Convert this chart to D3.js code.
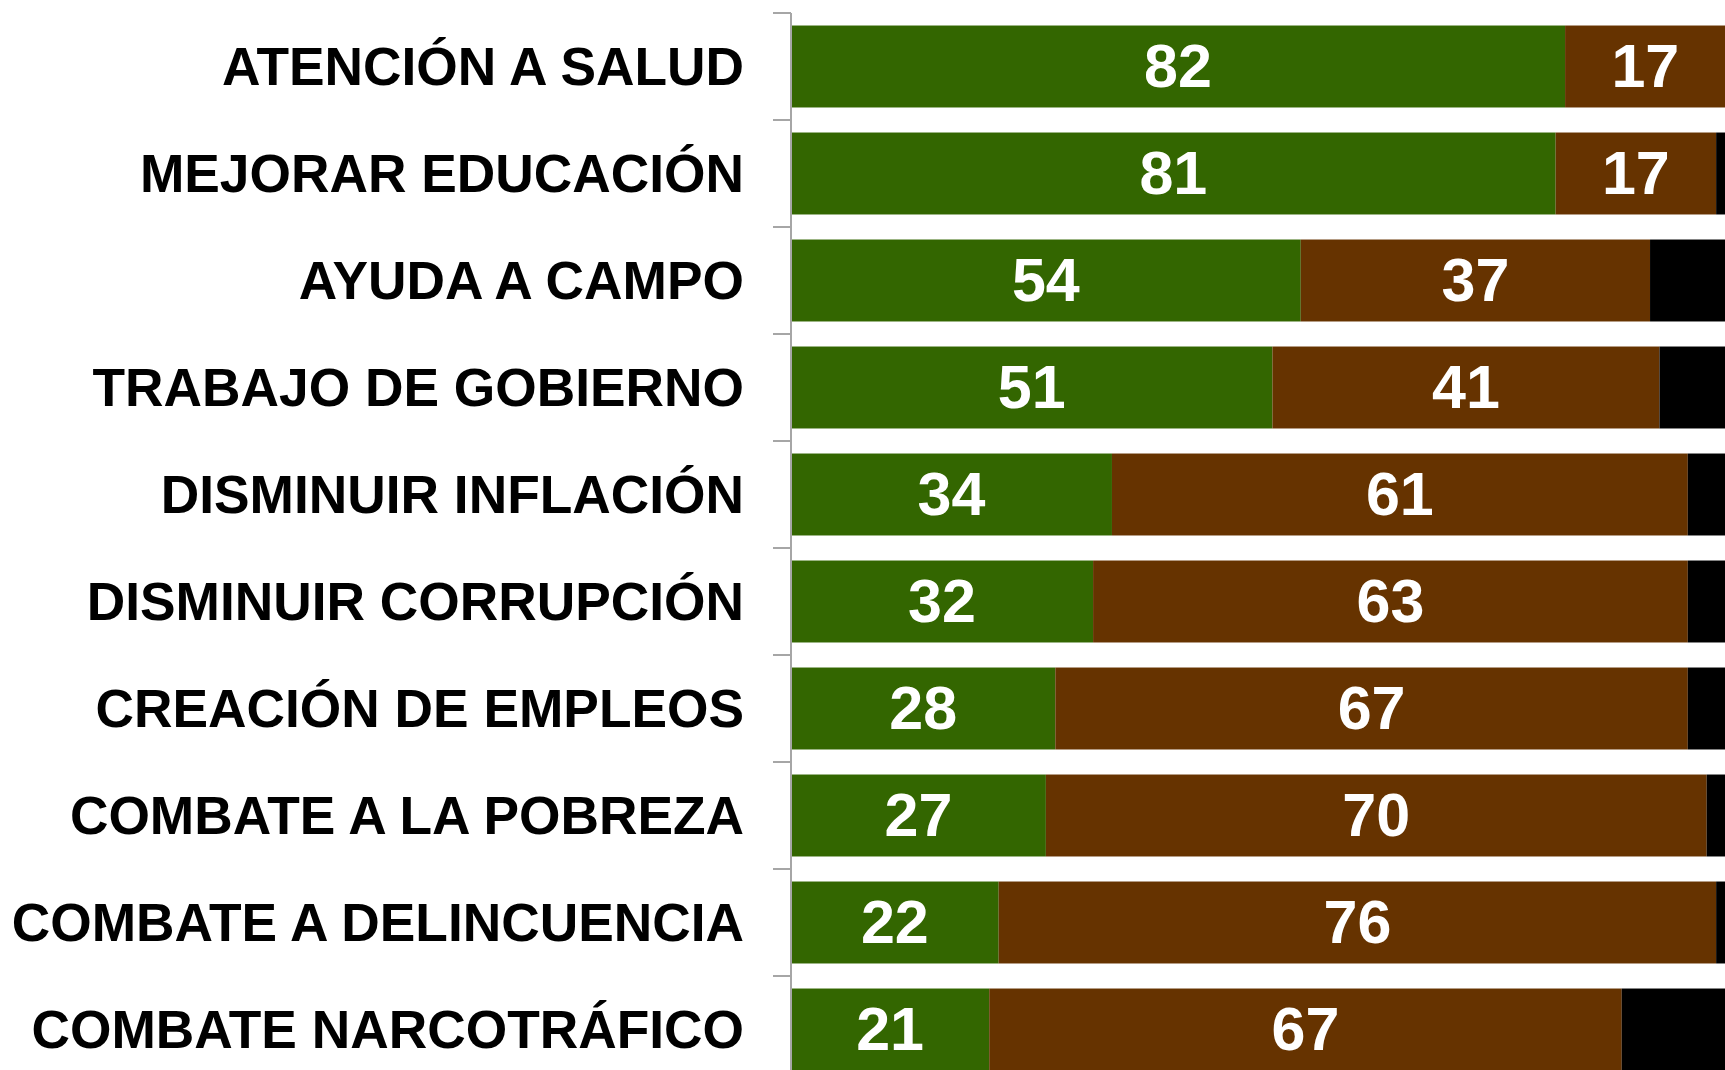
<!DOCTYPE html>
<html>
<head>
<meta charset="utf-8">
<script src="https://cdn.jsdelivr.net/npm/d3@7.9.0/dist/d3.min.js"></script>
<style>
  html, body { margin: 0; padding: 0; background: #fff; overflow: hidden; }
  svg { display: block; font-family: 'Liberation Sans', Arial, sans-serif; }
</style>
</head>
<body>
<svg id="chart" width="1725" height="1070"></svg>
<script>
const categories = [
  'ATENCIÓN A SALUD',
  'MEJORAR EDUCACIÓN',
  'AYUDA A CAMPO',
  'TRABAJO DE GOBIERNO',
  'DISMINUIR INFLACIÓN',
  'DISMINUIR CORRUPCIÓN',
  'CREACIÓN DE EMPLEOS',
  'COMBATE A LA POBREZA',
  'COMBATE A DELINCUENCIA',
  'COMBATE NARCOTRÁFICO'
];
const approve = [82, 81, 54, 51, 34, 32, 28, 27, 22, 21];
const disapprove = [17, 17, 37, 41, 61, 63, 67, 70, 76, 67];
const noAnswer = [1, 2, 9, 8, 5, 5, 5, 3, 2, 12];

const seriesKeys = ['approve', 'disapprove', 'noAnswer'];
const seriesColors = ['#336600', '#663300', '#000000'];

const rows = categories.map((c, i) => ({
  cat: c, approve: approve[i], disapprove: disapprove[i], noAnswer: noAnswer[i]
}));

const svg = d3.select('#chart');

// plot area runs past the right edge, as in the cropped original
const x = d3.scaleLinear().domain([0, 100]).range([791, 1735]);
const y = d3.scaleBand()
  .domain(categories)
  .range([13, 1083])
  .paddingInner(0.234)
  .paddingOuter(0.117);

const stack = d3.stack().keys(seriesKeys);
const layers = stack(rows);

svg.selectAll('g.layer')
  .data(layers)
  .join('g')
  .attr('class', 'layer')
  .attr('fill', (d, i) => seriesColors[i])
  .selectAll('rect')
  .data((d) => d)
  .join('rect')
  .attr('x', (d) => x(d[0]))
  .attr('y', (d) => y(d.data.cat))
  .attr('width', (d) => x(d[1]) - x(d[0]))
  .attr('height', y.bandwidth());

// value labels for the first two series
const labelled = layers.slice(0, 2);
svg.selectAll('g.vals')
  .data(labelled)
  .join('g')
  .attr('class', 'vals')
  .selectAll('text')
  .data((d) => d)
  .join('text')
  .attr('x', (d) => (x(d[0]) + x(d[1])) / 2)
  .attr('y', (d) => y(d.data.cat) + y.bandwidth() / 2)
  .attr('dy', '0.33em')
  .attr('text-anchor', 'middle')
  .attr('fill', '#fff')
  .attr('font-size', 61)
  .attr('font-weight', 'bold')
  .text((d) => d[1] - d[0]);

// category axis
const axisX = x(0);
const half = y.step() * y.paddingInner() / 2;
const tickYs = categories.map((c) => y(c) - half);

svg.append('line')
  .attr('x1', axisX).attr('x2', axisX)
  .attr('y1', tickYs[0]).attr('y2', 1070)
  .attr('stroke', '#a6a6a6').attr('stroke-width', 2);

svg.selectAll('line.tick')
  .data(tickYs)
  .join('line')
  .attr('class', 'tick')
  .attr('x1', axisX - 18).attr('x2', axisX)
  .attr('y1', (d) => d).attr('y2', (d) => d)
  .attr('stroke', '#a6a6a6').attr('stroke-width', 2);

svg.selectAll('text.cat')
  .data(categories)
  .join('text')
  .attr('class', 'cat')
  .attr('x', 744)
  .attr('y', (d) => y(d) + y.bandwidth() / 2)
  .attr('dy', '0.34em')
  .attr('text-anchor', 'end')
  .attr('font-size', 53.3)
  .attr('font-weight', 'bold')
  .attr('fill', '#000')
  .text((d) => d);
</script>
</body>
</html>
